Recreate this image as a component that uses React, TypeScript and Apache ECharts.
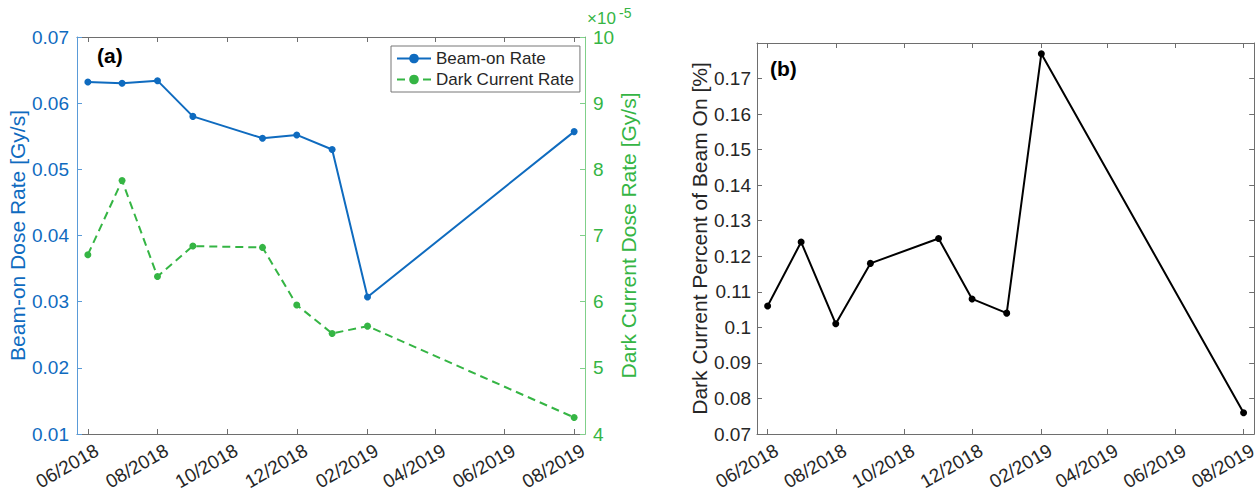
import React, { useEffect, useRef } from "react";
import * as echarts from "echarts";

// ---- data ----
const measureMonths = ["2018-06", "2018-07", "2018-08", "2018-09", "2018-11", "2018-12", "2019-01", "2019-02", "2019-08"];
const beamOnRate = [0.0632, 0.063, 0.0634, 0.058, 0.0547, 0.0552, 0.053, 0.0307, 0.0557];
// dark current rate in units of 1e-5 Gy/s
const darkCurrentRateE5 = [6.71, 7.83, 6.38, 6.84, 6.82, 5.95, 5.52, 5.63, 4.25];
const darkPercent = [0.106, 0.124, 0.101, 0.118, 0.125, 0.108, 0.104, 0.177, 0.076];
const tickMonths = ["2018-06", "2018-08", "2018-10", "2018-12", "2019-02", "2019-04", "2019-06", "2019-08"];

const FONT = "'Liberation Sans', Arial, Helvetica, sans-serif";
const BLUE = "#0f6bbf";
const BLUE_AXIS = "#5a9bd8";
const GREEN = "#35b544";
const GREEN_AXIS = "#80d08a";
const GRAY_AXIS = "#6e6e6e";
const TXT = "#262626";

function monthTs(m: string): number {
  const [y, mo] = m.split("-").map(Number);
  return new Date(y, mo - 1, 1).getTime();
}
function fmtMonth(v: number): string {
  const d = new Date(v + 12 * 3600 * 1000);
  const mm = String(d.getMonth() + 1).padStart(2, "0");
  return `${mm}/${d.getFullYear()}`;
}

const X_MIN = new Date(2018, 4, 22, 12).getTime();
const X_MAX = new Date(2019, 7, 10, 12).getTime();

export default function App() {
  const ref = useRef<HTMLDivElement>(null);
  useEffect(() => {
    if (!ref.current) return;
    const chart = echarts.init(ref.current, undefined, { renderer: "svg" });
    const ticks = tickMonths.map(monthTs);
    const xs = measureMonths.map(monthTs);

    const xBottom = (gridIndex: number) => ({
      type: "value",
      gridIndex,
      position: "bottom",
      min: X_MIN,
      max: X_MAX,
      scale: true,
      splitLine: { show: false },
      axisLine: { show: true, lineStyle: { color: GRAY_AXIS, width: 1 } },
      axisTick: { show: true, inside: true, length: 5, customValues: ticks, lineStyle: { color: GRAY_AXIS } },
      axisLabel: {
        show: true,
        customValues: ticks,
        rotate: 30,
        margin: 9,
        verticalAlign: "top",
        padding: [0, -5, 0, 0],
        color: TXT,
        fontSize: 19,
        fontFamily: FONT,
        formatter: (v: number) => fmtMonth(v),
      },
    });
    const xTop = (gridIndex: number) => ({
      type: "value",
      gridIndex,
      position: "top",
      min: X_MIN,
      max: X_MAX,
      scale: true,
      splitLine: { show: false },
      axisLine: { show: true, lineStyle: { color: GRAY_AXIS, width: 1 } },
      axisTick: { show: true, inside: true, length: 5, customValues: ticks, lineStyle: { color: GRAY_AXIS } },
      axisLabel: { show: false },
    });

    chart.setOption({
      animation: false,
      backgroundColor: "#ffffff",
      textStyle: { fontFamily: FONT },
      grid: [
        { left: 77, top: 37, width: 508, height: 397, containLabel: false },
        { left: 757, top: 43, width: 501, height: 391, containLabel: false },
      ],
      xAxis: [xBottom(0), xTop(0), xBottom(1), xTop(1)],
      yAxis: [
        {
          type: "value",
          gridIndex: 0,
          position: "left",
          min: 0.01,
          max: 0.07,
          interval: 0.01,
          splitLine: { show: false },
          axisLine: { show: true, lineStyle: { color: BLUE_AXIS, width: 1 } },
          axisTick: { show: true, inside: true, length: 5, lineStyle: { color: BLUE_AXIS } },
          axisLabel: { color: BLUE, fontSize: 19, fontFamily: FONT, margin: 8 },
          name: "Beam-on Dose Rate [Gy/s]",
          nameLocation: "middle",
          nameGap: 46,
          nameTextStyle: { color: BLUE, fontSize: 21, fontFamily: FONT },
        },
        {
          type: "value",
          gridIndex: 0,
          position: "right",
          min: 4,
          max: 10,
          interval: 1,
          splitLine: { show: false },
          axisLine: { show: true, lineStyle: { color: GREEN_AXIS, width: 1 } },
          axisTick: { show: true, inside: true, length: 5, lineStyle: { color: GREEN_AXIS } },
          axisLabel: { color: GREEN, fontSize: 19, fontFamily: FONT, margin: 8 },
          name: "Dark Current Dose Rate [Gy/s]",
          nameLocation: "middle",
          nameGap: 32,
          nameTextStyle: { color: GREEN, fontSize: 21, fontFamily: FONT },
        },
        {
          type: "value",
          gridIndex: 1,
          position: "left",
          min: 0.07,
          max: 0.18,
          interval: 0.01,
          splitLine: { show: false },
          axisLine: { show: true, lineStyle: { color: GRAY_AXIS, width: 1 } },
          axisTick: { show: true, inside: true, length: 5, lineStyle: { color: GRAY_AXIS } },
          axisLabel: { color: TXT, fontSize: 19, fontFamily: FONT, margin: 6, showMaxLabel: false },
          name: "Dark Current Percent of Beam On [%]",
          nameLocation: "middle",
          nameGap: 44,
          nameTextStyle: { color: TXT, fontSize: 21, fontFamily: FONT },
        },
        {
          type: "value",
          gridIndex: 1,
          position: "right",
          min: 0.07,
          max: 0.18,
          interval: 0.01,
          splitLine: { show: false },
          axisLine: { show: true, lineStyle: { color: GRAY_AXIS, width: 1 } },
          axisTick: { show: true, inside: true, length: 5, lineStyle: { color: GRAY_AXIS } },
          axisLabel: { show: false },
        },
      ],
      legend: {
        left: 391,
        top: 46,
        orient: "vertical",
        itemWidth: 34,
        itemHeight: 12,
        itemGap: 4,
        padding: [4, 6, 4, 5],
        borderColor: "#777777",
        borderWidth: 1,
        backgroundColor: "#ffffff",
        textStyle: { color: TXT, fontSize: 17, fontFamily: FONT },
        data: ["Beam-on Rate", "Dark Current Rate"],
      },
      series: [
        {
          name: "Beam-on Rate",
          type: "line",
          xAxisIndex: 0,
          yAxisIndex: 0,
          data: xs.map((x, i) => [x, beamOnRate[i]]),
          symbol: "circle",
          symbolSize: 7,
          lineStyle: { color: BLUE, width: 2 },
          itemStyle: { color: BLUE },
        },
        {
          name: "Dark Current Rate",
          type: "line",
          xAxisIndex: 0,
          yAxisIndex: 1,
          data: xs.map((x, i) => [x, darkCurrentRateE5[i]]),
          symbol: "circle",
          symbolSize: 7,
          lineStyle: { color: GREEN, width: 2, type: [8, 5] },
          itemStyle: { color: GREEN },
        },
        {
          name: "Dark Percent",
          type: "line",
          xAxisIndex: 2,
          yAxisIndex: 2,
          data: xs.map((x, i) => [x, darkPercent[i]]),
          symbol: "circle",
          symbolSize: 7,
          lineStyle: { color: "#000000", width: 2 },
          itemStyle: { color: "#000000" },
        },
      ],
      graphic: [
        {
          type: "text",
          x: 97,
          y: 45,
          style: { text: "(a)", font: `bold 21px ${FONT}`, fill: "#000" },
        },
        {
          type: "text",
          x: 770,
          y: 58,
          style: { text: "(b)", font: `bold 21px ${FONT}`, fill: "#000" },
        },
        {
          type: "text",
          x: 587,
          y: 10,
          style: { text: "×10", font: `17px ${FONT}`, fill: GREEN },
        },
        {
          type: "text",
          x: 619,
          y: 6,
          style: { text: "-5", font: `14px ${FONT}`, fill: GREEN },
        },
      ],
    });
    return () => chart.dispose();
  }, []);
  return (
    <div
      ref={ref}
      style={{ position: "fixed", left: 0, top: 0, width: 1260, height: 496 }}
    />
  );
}
